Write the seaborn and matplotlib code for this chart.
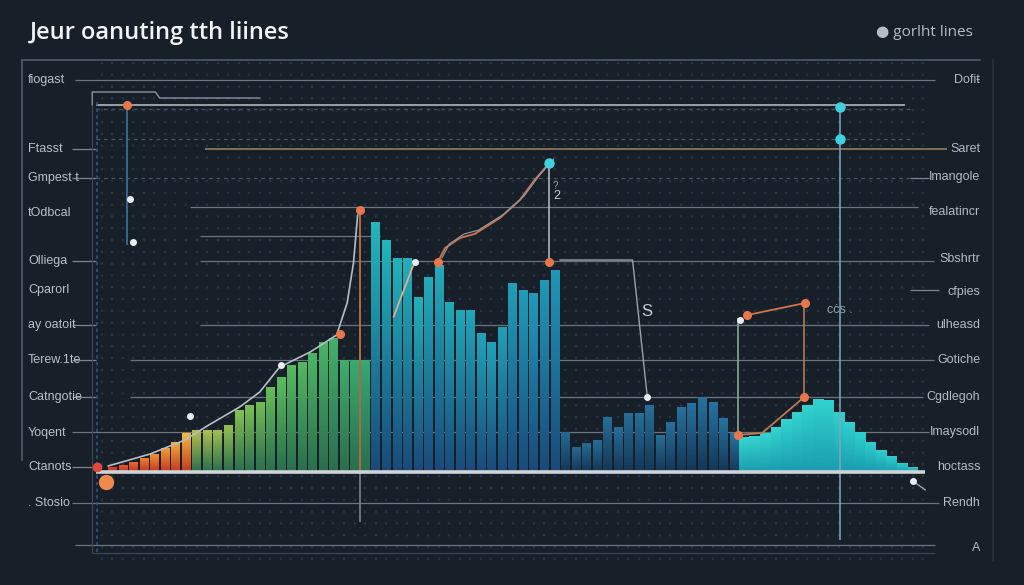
import numpy as np
import pandas as pd
import seaborn as sns
import matplotlib.pyplot as plt
import matplotlib.colors as mcolors

# bar heights, left to right, one list per colour band
warm_vals = [5, 7, 10, 14, 18, 24, 30, 39]
green_vals = [42, 42, 42, 47, 62, 67, 70, 85, 95, 107, 110, 119, 130, 134, 112, 112, 112]
teal_vals = [250, 232, 214, 214, 175, 195, 207, 170, 162, 162, 139, 130, 145, 189, 182, 179, 192, 202]
navy_vals = [40, 25, 29, 32, 55, 45, 59, 59, 67, 37, 50, 65, 69, 75, 70, 54, 39]
cyan_vals = [35, 36, 39, 45, 53, 60, 67, 73, 72, 60, 50, 40, 30, 22, 16, 9, 5]

left_labels = ["fiogast", "Ftasst", "Gmpest t", "tOdbcal", "Olliega", "Cparorl", "ay oatoit",
               "Terew.1te", "Catngotie", "Yoqent", "Ctanots", ". Stosio"]
left_levels = [392, 323, 294, 259, 211, 182, 147, 112, 75, 39, 5, -31]
right_labels = ["Dofiŧ", "Saret", "Imangole", "fealatincr", "Sbshrtr", "cfpies", "ulheasd",
                "Gotiche", "Cgdlegoh", "Imaysodl", "hoctass", "Rendh", "A"]
right_levels = [392, 323, 295, 260, 213, 180, 147, 112, 75, 40, 5, -31, -76]

# horizontal guide lines: level, start, end (in bar slots)
guide_levels = [392, 367, 323, 265, 236, 211, 147, 112, 75, 40, -31, -73]
guide_from = [-3.5, -1.5, 8.8, 7.4, 8.3, 8.3, 8.3, 1.7, 1.7, -3.8, -3.8, -3.5]
guide_to = [78.1, 75.3, 79.3, 76.5, 25.4, 78.0, 77.5, 78.0, 77.0, 77.5, 78.5, 78.1]
dashed_levels = [363, 333, 294]
stub_levels = [323, 294, 211, 147, 112, 75, 5]

# trend curves and markers (slot, value)
curve_a_x = [-0.4, 3.6, 6.9, 9.0, 12.1, 14.0, 15.9, 18.8, 21.3, 22.3, 22.9, 23.3]
curve_a_y = [6, 18, 32, 46, 65, 80, 105, 120, 137, 169, 209, 257]
curve_b_x = [30.9, 31.6, 33.0, 34.4, 36.8, 38.7, 40.1, 41.5]
curve_b_y = [210, 224, 234, 238, 254, 272, 292, 309]
orange_x = [1.4, 23.5, 21.6, 30.9, 41.5, 59.4, 65.7, 60.3, 65.8]
orange_y = [367, 262, 138, 210, 210, 37, 75, 157, 169]
cyan_x = [69.1, 69.1, 41.5]
cyan_y = [365, 333, 309]
white_x = [1.7, 2.0, 7.4, 16.0, 28.7, 59.6, 76.0, 50.8]
white_y = [273, 230, 56, 107, 210, 152, -9, 75]

sns.set_theme(style="dark", rc={"figure.facecolor": "#171f29", "axes.facecolor": "none"})
plt.rcParams["font.family"] = ["Liberation Sans", "DejaVu Sans"]

fig = plt.figure(figsize=(10.24, 5.85), dpi=100)
ax = fig.add_axes([22 / 1024, 25 / 585, 971 / 1024, 500 / 585])

bands = [
    (warm_vals, ["#e0432e", "#f08a30", "#f4bb3e"], "#c2361f", 0.78),
    (green_vals, ["#b8c04a", "#5cbc5c", "#36a872"], "#2a6e4e", 0.78),
    (teal_vals, ["#23b6ba", "#2096b8"], "#1a4a7a", 0.78),
    (navy_vals, ["#266a94", "#2874a0"], "#143656", 0.78),
    (cyan_vals, ["#35d6d0", "#2ccdcc"], "#1a9cae", 1.0),
]

start = 0
for vals, tops, bottom, width in bands:
    slots = np.arange(start, start + len(vals))
    cmap = mcolors.LinearSegmentedColormap.from_list("band", tops)
    cols = [cmap(t) for t in np.linspace(0, 1, len(vals))]
    df = pd.DataFrame({"slot": slots, "value": vals, "bar": [str(s) for s in slots]})
    n0 = len(ax.patches)
    sns.barplot(data=df, x="slot", y="value", hue="bar", palette=dict(zip(df["bar"], cols)),
                legend=False, native_scale=True, width=width, saturation=1, ax=ax, zorder=2)
    bot = np.array(mcolors.to_rgba(bottom))
    for p in ax.patches[n0:]:
        top = np.array(p.get_facecolor())
        t = np.linspace(0, 1, 64)[:, None]
        grad = (1 - t) * top + t * bot
        img = ax.imshow(grad[:, None, :], extent=(p.get_x(), p.get_x() + p.get_width(), 0, p.get_height()),
                        origin="upper", aspect="auto", zorder=2, interpolation="bilinear")
        img.set_clip_path(p)
        p.set_facecolor("none")
        p.set_edgecolor("none")
    start += len(vals)

# guide lines behind the bars
for lv, x0, x1 in zip(guide_levels, guide_from, guide_to):
    col, lw = "#6b7580", 0.9
    if lv == 367:
        col, lw = "#a3abb3", 1.3
    if lv == 323:
        col, lw = "#8d7459", 1.3
    ax.hlines(lv, x0, x1, color=col, lw=lw, zorder=1)
for lv in dashed_levels:
    ax.hlines(lv, -1.5, 76, color="#4a5663", lw=0.9, ls=(0, (3, 3)), zorder=1)
for lv in stub_levels:
    ax.hlines(lv, -3.8, -1.5, color="#7d8690", lw=0.9, zorder=1)
ax.hlines(294, 75.7, 77.5, color="#7d8690", lw=0.9)
ax.hlines(182, 75.7, 78.5, color="#7d8690", lw=0.9)

# baseline
ax.hlines(0, -1.5, 77.2, color="#cfd4d9", lw=2.6, zorder=4)

# vertical markers
ax.vlines(-1.45, -80, 370, color="#2d5878", lw=1.2, ls=(0, (2, 2)), zorder=1)
ax.vlines(-1.95, -81, 367, color="#3a4654", lw=0.9, zorder=1)
ax.hlines(-81, -1.95, 78.1, color="#3a4654", lw=0.9, zorder=1)
ax.vlines(1.4, 227, 367, color="#3b6c92", lw=1.3, zorder=3)
ax.vlines(23.5, 0, 262, color="#c0704a", lw=1.3, zorder=3)
ax.vlines(23.5, -50, 0, color="#7a828a", lw=1.2, zorder=3)
ax.vlines(41.5, 210, 309, color="#b8c0c8", lw=1.1, zorder=3)
ax.vlines(59.4, 37, 154, color="#8aa890", lw=1.2, zorder=3)
ax.vlines(65.7, 75, 169, color="#b07a58", lw=1.2, zorder=3)
ax.vlines(69.1, -68, 365, color="#7fa6c0", lw=1.1, zorder=3)

# curves
ax.plot(curve_a_x, curve_a_y, color="#b6bec6", lw=1.2, zorder=3)
ax.plot(curve_b_x, curve_b_y, color="#d0714a", lw=1.4, zorder=3)
ax.plot([v + 0.4 for v in curve_b_x], [v + 4 for v in curve_b_y], color="#8c949c", lw=0.9, zorder=3)
ax.plot([26.7, 28.7], [155, 210], color="#d8b090", lw=1.3, zorder=3)
ax.plot([59.4, 61.7, 65.7], [37, 39, 75], color="#c0784e", lw=1.3, zorder=3)
ax.plot([60.3, 65.8], [157, 169], color="#d0764a", lw=1.3, zorder=3)
ax.plot([42.5, 49.4, 50.8], [212, 212, 75], color="#9aa3ab", lw=1.0, zorder=3)
ax.plot([76.0, 77.2], [-9, -18], color="#9aa3ab", lw=1.0, zorder=3)
ax.plot([-1.9, -1.9, 4.1, 4.5, 14.0], [367, 380, 380, 374, 374], color="#7f8a96", lw=1.1, zorder=3)

ax.plot(orange_x, orange_y, "o", color="#ea764c", ms=5.5, zorder=5)
ax.plot(cyan_x, cyan_y, "o", color="#3fd3e2", ms=6.5, zorder=5)
ax.plot(white_x, white_y, "o", color="#e8eef2", ms=4, zorder=5)
ax.plot([-0.6], [-10], "o", color="#f08a4a", ms=10, zorder=5)
ax.plot([-1.45], [5], "o", color="#e04a3a", ms=6, zorder=5)

ax.text(41.85, 276, "2", color="#c5ccd3", fontsize=9, ha="left", va="center", zorder=5)
ax.text(41.85, 286, "?", color="#9aa3ab", fontsize=7, ha="left", va="center", zorder=5)
ax.text(50.77, 160, "S", color="#c5ccd3", fontsize=12, ha="center", va="center", zorder=5)
ax.text(67.9, 162, "cċs .", color="#9aa3ab", fontsize=9, ha="left", va="center", zorder=5)

# side labels
for lab, lv in zip(left_labels, left_levels):
    ax.text(-8.0, lv, lab, color="#b9c0c8", fontsize=9, ha="left", va="center")
for lab, lv in zip(right_labels, right_levels):
    ax.text(82.4, lv, lab, color="#b3bac2", fontsize=9, ha="right", va="center")

# dotted matrix in the background
ax.set_xticks(np.arange(-1, 78, 1), minor=True)
ax.grid(which="minor", axis="x", color="#263445", lw=1.7, ls=(0, (1, 4)), zorder=0)
ax.grid(which="major", visible=False)
ax.set_xticks([])
ax.set_yticks([])
ax.tick_params(which="both", length=0, labelbottom=False, labelleft=False)
ax.set_xlabel("")
ax.set_ylabel("")

ax.set_xlim(-8.57, 83.62)
ax.set_ylim(-88, 412)
for side in ["top", "left", "right"]:
    ax.spines[side].set_visible(True)
ax.spines["bottom"].set_visible(False)
ax.spines["top"].set_color("#4b5866")
ax.spines["top"].set_bounds(-8.57, 82.4)
ax.spines["left"].set_color("#4b5866")
ax.spines["left"].set_bounds(12, 412)
ax.spines["right"].set_color("#28323e")

fig.text(0.029, 0.944, "Jeur oanuting tth liines", color="#f2f4f6", fontsize=17,
         family=["Open Sans", "DejaVu Sans"], fontweight="semibold", va="center", ha="left")
fig.text(0.855, 0.944, "● gorlht lines", color="#b4bcc4", fontsize=11,
         family=["Open Sans", "DejaVu Sans"], va="center", ha="left")

plt.savefig("out.png", dpi=100, facecolor=fig.get_facecolor())
